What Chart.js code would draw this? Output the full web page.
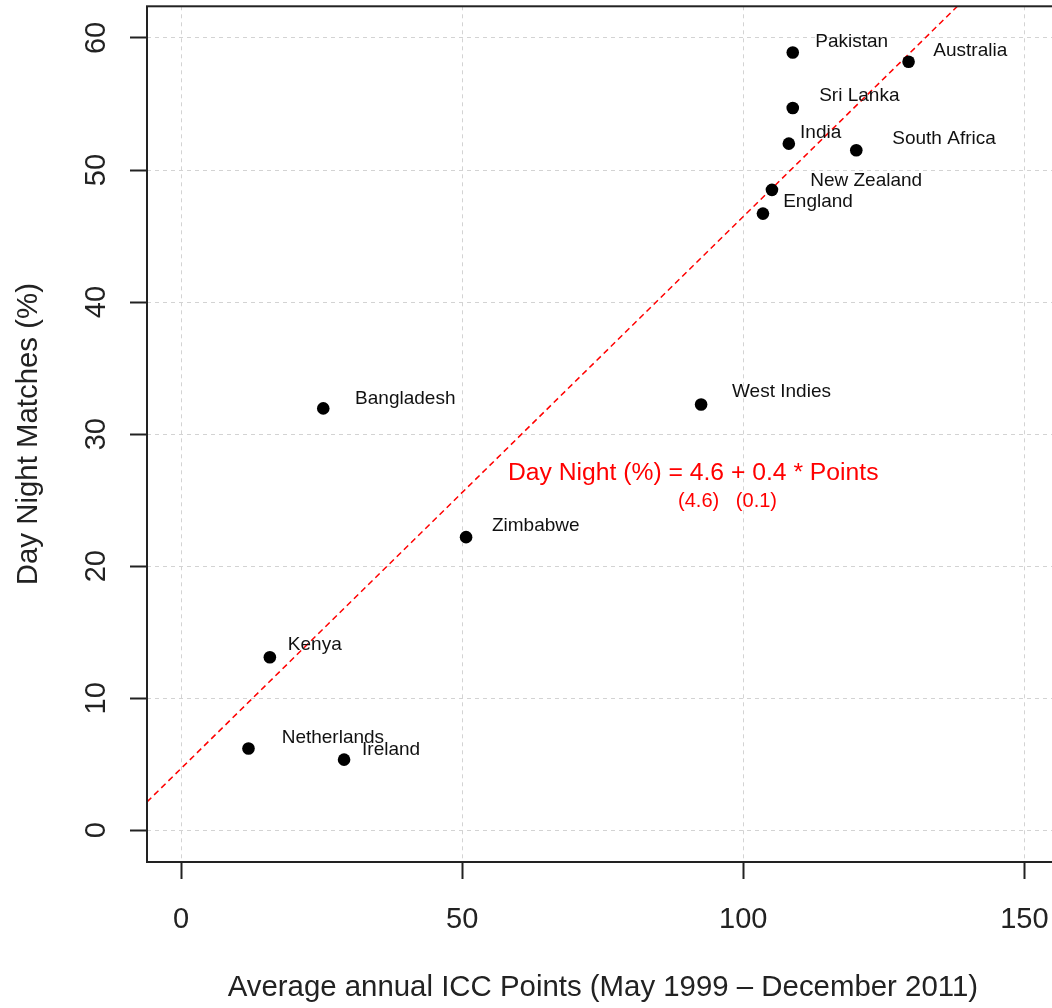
<!DOCTYPE html>
<html>
<head>
<meta charset="utf-8">
<script src="https://cdn.jsdelivr.net/npm/chart.js@4/dist/chart.umd.min.js"></script>
<style>
  html, body { margin: 0; padding: 0; background: #fff; overflow: hidden; }
  #wrap { position: relative; width: 1065px; height: 1008px; }
  canvas { display: block; }
</style>
</head>
<body>
<div id="wrap"><canvas id="dayNightChart" width="1065" height="1008"></canvas></div>
<script>
// values
const teams = ['Pakistan', 'Australia', 'Sri Lanka', 'India', 'South Africa', 'New Zealand', 'England',
  'Bangladesh', 'West Indies', 'Zimbabwe', 'Kenya', 'Netherlands', 'Ireland'];
const iccPoints = [108.8, 129.4, 108.8, 108.1, 120.1, 105.1, 103.5, 25.3, 92.5, 50.7, 15.8, 12.0, 29.0];
const dayNightPct = [58.9, 58.2, 54.7, 52.0, 51.5, 48.5, 46.7, 31.95, 32.25, 22.2, 13.1, 6.2, 5.35];

const fitIntercept = 4.68;
const fitSlope = 0.418;

const xTicks = [0, 50, 100, 150];
const yTicks = [0, 10, 20, 30, 40, 50, 60];
const xTitle = 'Average annual ICC Points (May 1999 \u2013 December 2011)';
const yTitle = 'Day Night Matches (%)';
const equationText = 'Day Night (%) = 4.6 + 0.4 * Points';
const stdErrText = '(4.6)   (0.1)';

// where the R text() calls put each name (data units, left edge)
const labelSpots = [
  [112.8, 59.7], [133.8, 59.05], [113.5, 55.6], [110.1, 52.8], [126.5, 52.4], [111.9, 49.2], [107.1, 47.6],
  [30.96, 32.7], [98.0, 33.2], [55.3, 23.1], [19.0, 14.05], [17.9, 7.0], [32.2, 6.1],
];

const xRange = [-6.05, 156.1];
const yRange = [-2.4, 62.4];
const FONT = '"Liberation Sans", Arial, sans-serif';

const points = iccPoints.map((x, i) => ({ x, y: dayNightPct[i] }));
const fitLine = xRange.map((x) => ({ x, y: fitIntercept + fitSlope * x }));

const overlay = {
  id: 'overlay',
  afterDraw(chart) {
    const { ctx, chartArea: a, scales } = chart;
    const xs = scales.x;
    const ys = scales.y;

    // box
    ctx.save();
    ctx.strokeStyle = '#222';
    ctx.lineWidth = 2;
    ctx.strokeRect(a.left, a.top, a.right - a.left, a.bottom - a.top);

    // y tick labels, parallel to the axis
    ctx.fillStyle = '#222';
    ctx.font = '29px ' + FONT;
    ctx.textAlign = 'center';
    ctx.textBaseline = 'middle';
    yTicks.forEach((v) => {
      ctx.save();
      ctx.translate(97, ys.getPixelForValue(v));
      ctx.rotate(-Math.PI / 2);
      ctx.fillText(String(v), 0, 0);
      ctx.restore();
    });

    // country names
    ctx.fillStyle = '#111';
    ctx.font = '19px ' + FONT;
    ctx.textAlign = 'left';
    teams.forEach((name, i) => {
      const [lx, ly] = labelSpots[i];
      ctx.fillText(name, xs.getPixelForValue(lx), ys.getPixelForValue(ly));
    });

    // fitted equation
    ctx.fillStyle = '#ff0000';
    ctx.textAlign = 'center';
    ctx.font = '24.7px ' + FONT;
    ctx.fillText(equationText, xs.getPixelForValue(91.1), ys.getPixelForValue(27.06));
    ctx.font = '20px ' + FONT;
    ctx.fillText(stdErrText, xs.getPixelForValue(97.2), ys.getPixelForValue(24.9));
    ctx.restore();
  },
};

new Chart(document.getElementById('dayNightChart'), {
  type: 'scatter',
  data: {
    datasets: [
      {
        label: 'Teams',
        data: points,
        pointRadius: 6.3,
        pointBackgroundColor: '#000',
        pointBorderWidth: 0,
      },
      {
        label: 'Fit',
        data: fitLine,
        showLine: true,
        pointRadius: 0,
        borderColor: '#ff0000',
        borderWidth: 1.5,
        borderDash: [6, 4],
      },
    ],
  },
  options: {
    responsive: false,
    animation: false,
    layout: { padding: { top: 6, right: 2, left: 0, bottom: 0 } },
    plugins: {
      legend: { display: false },
      tooltip: { enabled: false },
    },
    scales: {
      x: {
        type: 'linear',
        min: xRange[0],
        max: xRange[1],
        afterBuildTicks: (scale) => { scale.ticks = xTicks.map((value) => ({ value })); },
        afterFit: (scale) => {
          scale.height = 146;
          scale.paddingLeft = 0;
          scale.paddingRight = 0;
        },
        ticks: {
          font: { size: 29, family: FONT },
          color: '#222',
          padding: 24,
          maxRotation: 0,
        },
        grid: {
          color: '#d3d3d3',
          lineWidth: 1,
          drawTicks: true,
          tickLength: 17,
          tickColor: '#222',
          tickWidth: 2,
          tickBorderDash: [],
        },
        border: { display: false, dash: [4, 4] },
        title: {
          display: true,
          text: xTitle,
          color: '#222',
          font: { size: 29.4, family: FONT },
          padding: { top: 0, bottom: 2 },
        },
      },
      y: {
        type: 'linear',
        min: yRange[0],
        max: yRange[1],
        afterBuildTicks: (scale) => { scale.ticks = yTicks.map((value) => ({ value })); },
        afterFit: (scale) => {
          scale.width = 147;
          scale.paddingTop = 0;
          scale.paddingBottom = 0;
        },
        ticks: { display: false },
        grid: {
          color: '#d3d3d3',
          lineWidth: 1,
          drawTicks: true,
          tickLength: 17,
          tickColor: '#222',
          tickWidth: 2,
          tickBorderDash: [],
        },
        border: { display: false, dash: [4, 4] },
        title: {
          display: true,
          text: yTitle,
          color: '#222',
          font: { size: 29.4, family: FONT },
          padding: { top: 11, bottom: 0 },
        },
      },
    },
  },
  plugins: [overlay],
});
</script>
</body>
</html>
